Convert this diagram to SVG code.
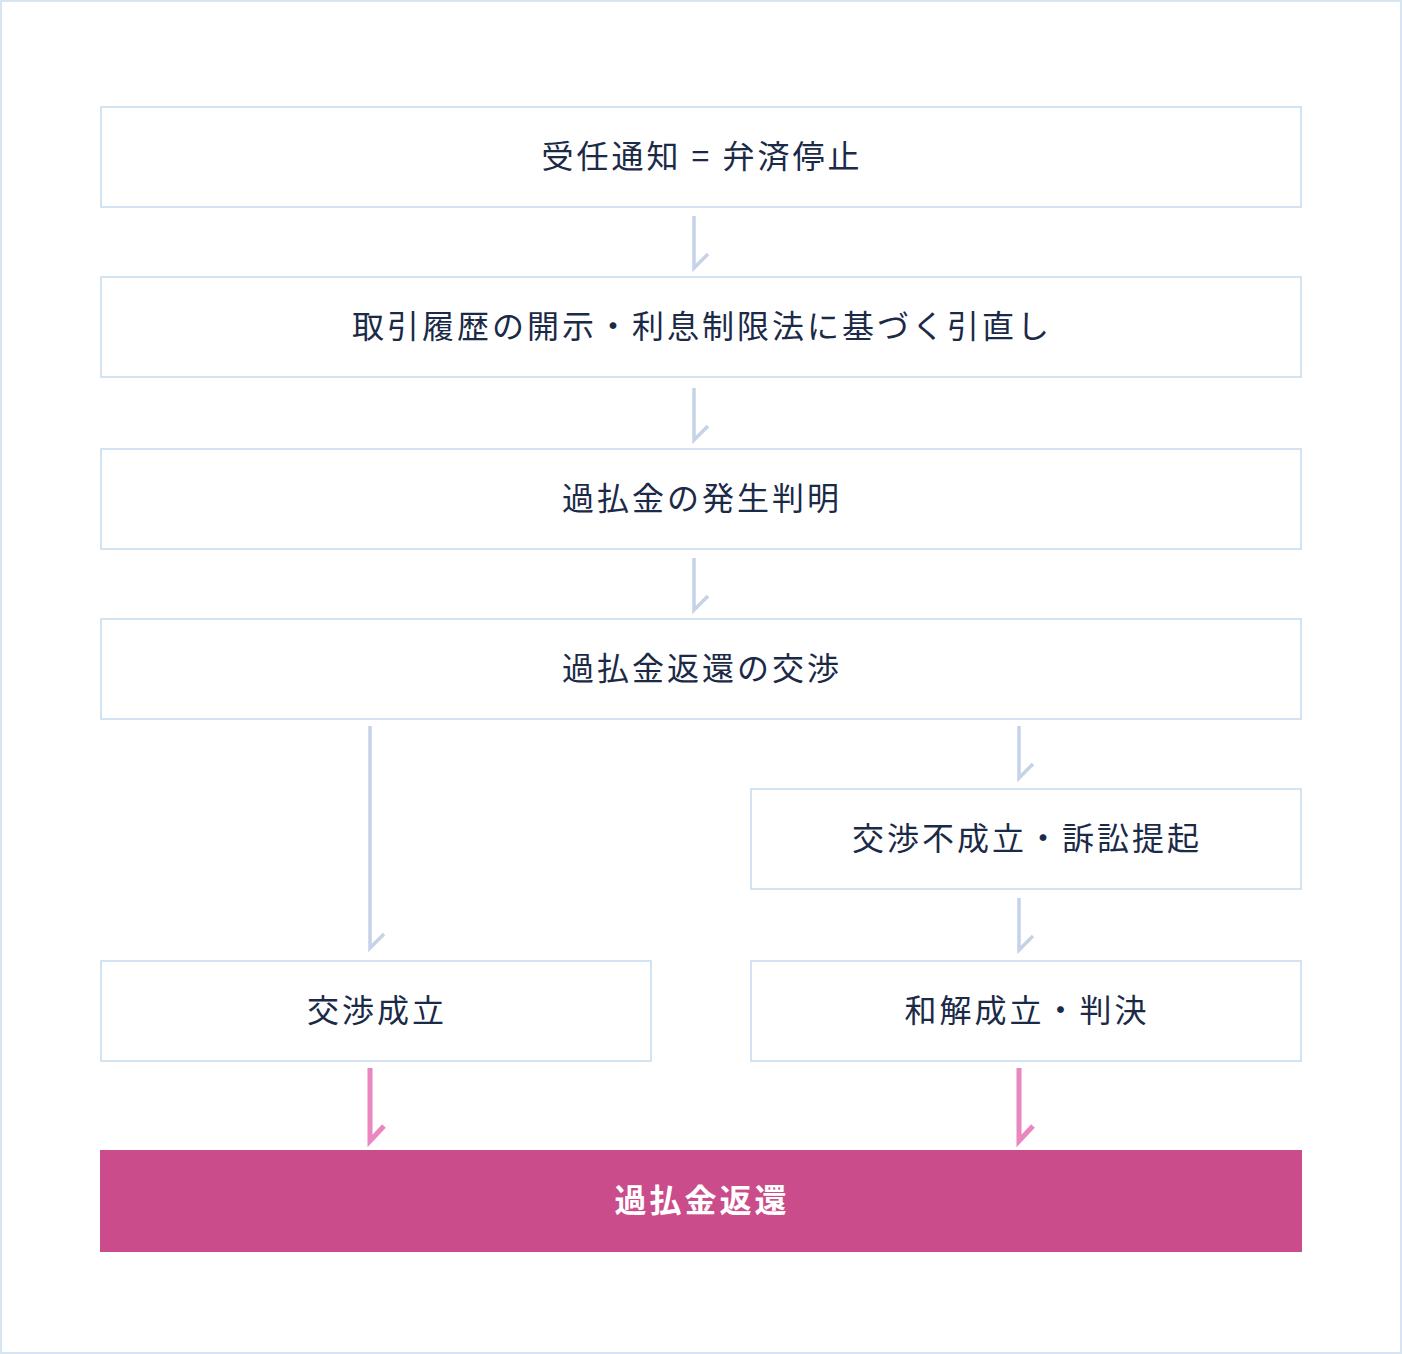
<svg xmlns="http://www.w3.org/2000/svg" width="1402" height="1354" viewBox="0 0 1402 1354">
<style>
.box{fill:#fff;stroke:#d3e3f1;stroke-width:2}
.t{font-family:"Noto Sans CJK JP","Noto Sans",sans-serif;font-size:32px;font-weight:400;fill:#1b2a47;text-anchor:middle;letter-spacing:3px}
.tw{font-family:"Noto Sans CJK JP","Noto Sans",sans-serif;font-size:32px;font-weight:bold;fill:#fff;text-anchor:middle;letter-spacing:3px}
.a{fill:none;stroke:#c6d2e8;stroke-width:3.5}
.p{fill:none;stroke:#ea86c0;stroke-width:5}
</style>
<rect x="1" y="1" width="1400" height="1352" fill="#fff" stroke="#d6e5f1" stroke-width="2"/>
<g id="connectors">
<path class="a" d="M694 216 V268 L708 254"/>
<path class="a" d="M694 388 V440 L708 426"/>
<path class="a" d="M694 558 V610 L708 596"/>
<path class="a" d="M370 726 V948 L384 934"/>
<path class="a" d="M1019 726 V778 L1033 764"/>
<path class="a" d="M1019 898 V950 L1033 936"/>
<path class="p" d="M370 1068 V1141 L384 1126"/>
<path class="p" d="M1019 1068 V1141 L1033 1126"/>
</g>
<g id="n1"><rect class="box" x="101" y="107" width="1200" height="100"/><text class="t" x="702" y="168">受任通知 = 弁済停止</text></g>
<g id="n2"><rect class="box" x="101" y="277" width="1200" height="100"/><text class="t" x="702" y="338">取引履歴の開示・利息制限法に基づく引直し</text></g>
<g id="n3"><rect class="box" x="101" y="449" width="1200" height="100"/><text class="t" x="702" y="510">過払金の発生判明</text></g>
<g id="n4"><rect class="box" x="101" y="619" width="1200" height="100"/><text class="t" x="702" y="680">過払金返還の交渉</text></g>
<g id="n5"><rect class="box" x="751" y="789" width="550" height="100"/><text class="t" x="1027" y="850">交渉不成立・訴訟提起</text></g>
<g id="n6"><rect class="box" x="101" y="961" width="550" height="100"/><text class="t" x="377" y="1022">交渉成立</text></g>
<g id="n7"><rect class="box" x="751" y="961" width="550" height="100"/><text class="t" x="1027" y="1022">和解成立・判決</text></g>
<g id="n8"><rect x="100" y="1150" width="1202" height="102" fill="#cb4c8b"/><text class="tw" x="702" y="1212">過払金返還</text></g>
</svg>
